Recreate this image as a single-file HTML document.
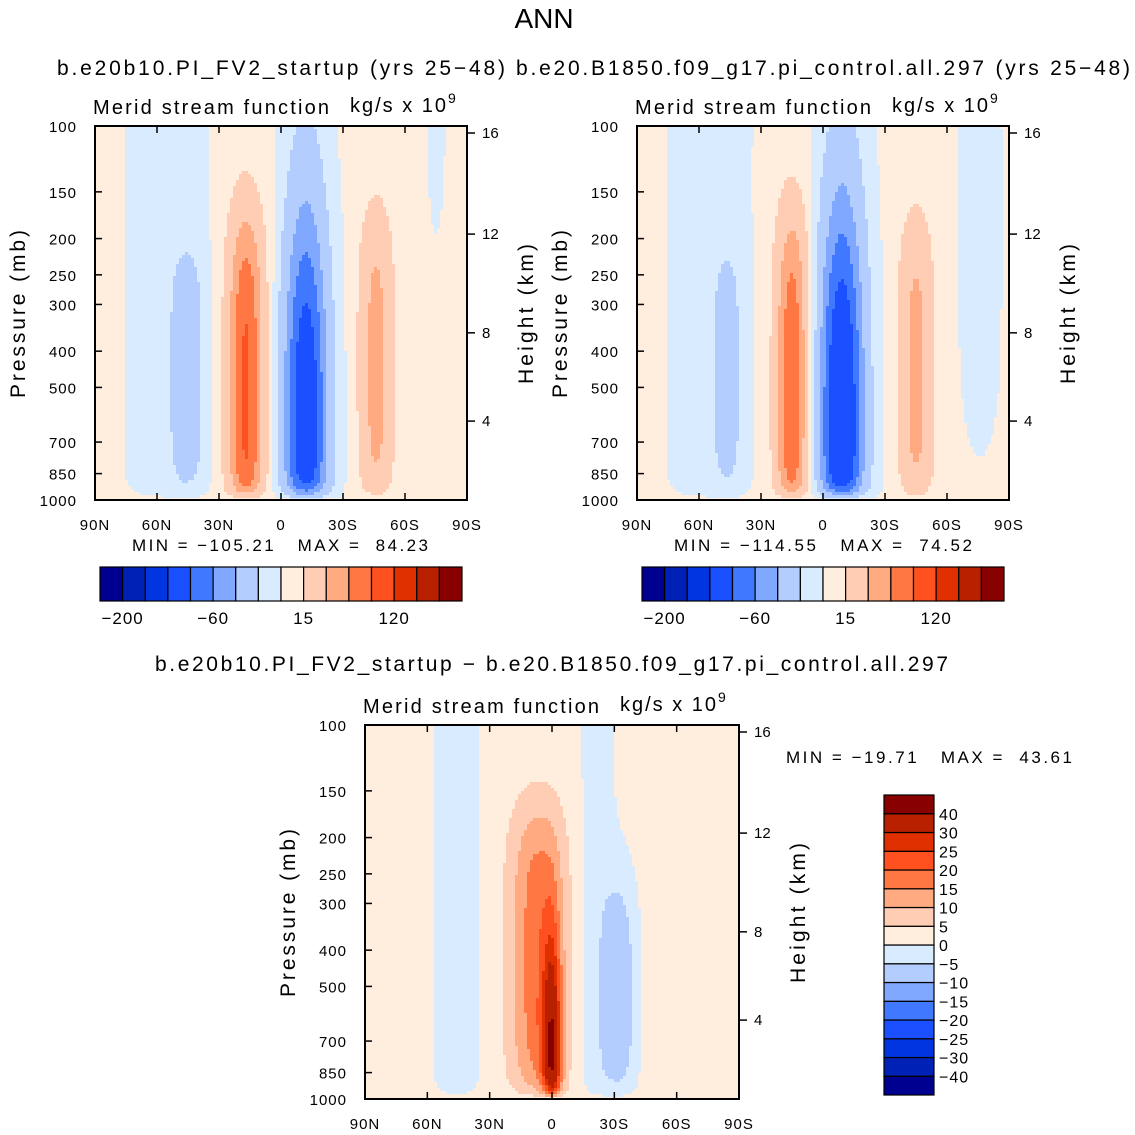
<!DOCTYPE html>
<html><head><meta charset="utf-8">
<style>
body{margin:0;background:#fff;}
svg{display:block;font-family:"Liberation Sans",sans-serif;}
text{white-space:pre;}
</style></head>
<body>
<svg id="fig" width="1135" height="1135" viewBox="0 0 1135 1135" xmlns="http://www.w3.org/2000/svg">
<text x="544" y="28" font-size="28" text-anchor="middle">ANN</text>
<text x="57" y="75" font-size="21" textLength="448" lengthAdjust="spacing">b.e20b10.PI_FV2_startup (yrs 25−48)</text>
<text x="516" y="75" font-size="21" textLength="614" lengthAdjust="spacing">b.e20.B1850.f09_g17.pi_control.all.297 (yrs 25−48)</text>
<text x="155" y="671" font-size="21" textLength="793" lengthAdjust="spacing">b.e20b10.PI_FV2_startup − b.e20.B1850.f09_g17.pi_control.all.297</text>
<g id="p1"></g>
<g id="p2"></g>
<g id="p3"></g>
<g id="cb"></g>
</svg>
<script>
// ---- data ----
const colors = ["#000090","#0021b5","#0035e0","#1a50ff","#4078ff","#80a8ff","#b4cdff","#d8ebff","#ffeedd","#ffcdb4","#ffaa80","#ff7844","#ff5020","#e03000","#b82000","#880000"];
const levelsAbs = [-200,-160,-120,-80,-60,-40,-15,0,15,40,60,80,120,160,200];
const levelsDiff = [-40,-30,-25,-20,-15,-10,-5,0,5,10,15,20,25,30,40];
const cbAbsLabels = ["−200","−60","15","120"];
const cbAbsLabelIdx = [0,4,8,12];
const cbDiffLabels = ["40","30","25","20","15","10","5","0","−5","−10","−15","−20","−25","−30","−40"];
const pressureTicks = [100,150,200,250,300,400,500,700,850,1000];
const heightTicks = [4,8,12,16];
const heightFrac = [0.789,0.553,0.289,0.0187];
const latTickLabels = ["90N","60N","30N","0","30S","60S","90S"];
const latTicks = [90,60,30,0,-30,-60,-90];
// panel 1 components (lat center, amplitude, lat width, y-centre frac, y width, exponent)
const p1Base = 3;
const p1Lat  = [17, -12, 45, -46, 55, -12, -75];
const p1Amp  = [80, -100, -26, 45, -9, -6, -5];
const p1LatW = [8.8, 11, 8, 8, 20, 10, 6];
const p1Y0   = [0.72, 0.8, 0.66, 0.64, 0.5, 0.5, 0];
const p1YW   = [0.5, 0.6, 0.33, 0.42, 9, 9, 0.4];
const p1Ex   = [3.5, 2.2, 4, 3.5, 2, 2, 2];
// panel 2
const p2Base = 3;
const p2Lat  = [15, -9, 46, -45, 55, -10, -76];
const p2Amp  = [72, -110, -21, 44, -9, -6, -9];
const p2LatW = [8, 11, 7, 8, 20, 12, 10];
const p2Y0   = [0.72, 0.8, 0.66, 0.66, 0.5, 0.5, 0.25];
const p2YW   = [0.5, 0.62, 0.33, 0.42, 9, 9, 0.62];
const p2Ex   = [3.5, 2.2, 4, 3.5, 2, 2, 4];
// panel 3 (difference)
const p3Base = 2;
const p3Lat  = [7, 0, -33, 46, -22];
const p3Amp  = [16, 31, -11, -5, -5];
const p3LatW = [13, 4.5, 8, 12, 8];
const p3Y0   = [0.63, 0.93, 0.72, 0.5, 0.5];
const p3YW   = [0.42, 0.36, 0.33, 9, 9];
const p3Ex   = [4, 2, 2.5, 2, 2];

const NS="http://www.w3.org/2000/svg";
function mk(tag,attrs,parent){const e=document.createElementNS(NS,tag);for(const k in attrs)e.setAttribute(k,attrs[k]);parent.appendChild(e);return e;}

function field(lat,yf,base,L,A,W,Y0,YW,EX){
  let v=0;
  for(let i=0;i<L.length;i++){
    v+=A[i]*Math.exp(-Math.pow((lat-L[i])/W[i],2))*Math.exp(-Math.pow(Math.abs(yf-Y0[i])/YW[i],EX[i]));
  }
  const taper=1-Math.exp(-(1-yf)/0.025);
  return base+v*taper;
}
function colorIdx(v,lev){let k=0;while(k<lev.length&&v>=lev[k])k++;return k;}

function drawPanel(id,x0,y0,w,h,base,L,A,W,Y0,YW,EX,lev,label){
  const g=document.getElementById(id);
  const xS=lat=>x0+(90-lat)/180*w;
  const yP=p=>y0+Math.log10(p/100)*h;
  const cell=3;
  const nx=Math.ceil(w/cell), ny=Math.ceil(h/cell);
  const cg=mk('g',{},g);
  
  
  for(let j=0;j<ny;j++){
    const yf=(j+0.5)*cell/h;
    let runStart=0,runC=-1;
    for(let i=0;i<=nx;i++){
      let c=-2;
      if(i<nx){const lat=90-(i+0.5)*cell/w*180;c=colorIdx(field(lat,yf,base,L,A,W,Y0,YW,EX),lev);}
      if(c!==runC){
        if(runC>=0){
          const r=mk('rect',{x:x0+runStart*cell,y:y0+j*cell,width:Math.min((i-runStart)*cell,w-runStart*cell)+0.5,height:Math.min(cell,h-j*cell)+0.5,fill:colors[runC]},cg);
          
          
        }
        runStart=i;runC=c;
      }
    }
  }
  const fr=mk('rect',{x:x0,y:y0,width:w,height:h,fill:'none',stroke:'#000','stroke-width':2},g);
  
  
  pressureTicks.forEach(p=>{
    const y=yP(p);
    mk('line',{x1:x0,x2:x0+7,y1:y,y2:y,stroke:'#000','stroke-width':1.5},g);
    const t=mk('text',{x:x0-18,y:y+6,'font-size':15,'text-anchor':'end','letter-spacing':1},g);
    t.textContent=p;
    
    
  });
  heightTicks.forEach((z,i)=>{
    const y=y0+heightFrac[i]*h;
    mk('line',{x1:x0+w,x2:x0+w+8,y1:y,y2:y,stroke:'#000','stroke-width':1.5},g);
    const t=mk('text',{x:x0+w+15,y:y+5,'font-size':15},g);
    t.textContent=z;
    
    
  });
  latTicks.forEach((lt,i)=>{
    const x=xS(lt);
    mk('line',{x1:x,x2:x,y1:y0+h,y2:y0+h-7,stroke:'#000','stroke-width':1.5},g);
    mk('line',{x1:x,x2:x,y1:y0,y2:y0+7,stroke:'#000','stroke-width':1.5},g);
    const t=mk('text',{x:x,y:y0+h+30,'font-size':15,'text-anchor':'middle','letter-spacing':1},g);
    t.textContent=latTickLabels[i];
    
    
  });
  const lt=mk('text',{x:x0-2,y:y0-12,'font-size':20,textLength:236,lengthAdjust:'spacing'},g);
  lt.textContent='Merid stream function';
  
  
  const ut=mk('text',{x:x0+255,y:y0-14,'font-size':20,'letter-spacing':2},g);
  ut.innerHTML='kg/s x 10<tspan font-size="14" dy="-9">9</tspan>';
  
  
  const pl=mk('text',{transform:`translate(${x0-70},${y0+h/2+1}) rotate(-90)`,'font-size':21,'text-anchor':'middle',textLength:168,lengthAdjust:'spacing'},g);
  pl.textContent='Pressure (mb)';
  
  
  const hl=mk('text',{transform:`translate(${x0+w+66},${y0+h/2+1}) rotate(-90)`,'font-size':21,'text-anchor':'middle',textLength:140,lengthAdjust:'spacing'},g);
  hl.textContent='Height (km)';
  
  
}

drawPanel('p1',95,126,372,374,p1Base,p1Lat,p1Amp,p1LatW,p1Y0,p1YW,p1Ex,levelsAbs,'model');
drawPanel('p2',637,126,372,374,p2Base,p2Lat,p2Amp,p2LatW,p2Y0,p2YW,p2Ex,levelsAbs,'control');
drawPanel('p3',365,725,374,374,p3Base,p3Lat,p3Amp,p3LatW,p3Y0,p3YW,p3Ex,levelsDiff,'difference');

const cb=document.getElementById('cb');
function stat(x,y,txt,len,name){
  const t=mk('text',{x:x,y:y,'font-size':17,textLength:len,lengthAdjust:'spacing'},cb);
  t.textContent=txt;
  
  
}
stat(132,551,'MIN = −105.21   MAX =  84.23',296,'min-max-model');
stat(674,551,'MIN = −114.55   MAX =  74.52',298,'min-max-control');
stat(786,763,'MIN = −19.71   MAX =  43.61',286,'min-max-difference');

function hbar(x0,y0,w,h,name){
  const g=mk('g',{},cb);
  
  
  const bw=w/16;
  colors.forEach((c,i)=>{
    const r=mk('rect',{x:x0+i*bw,y:y0,width:bw,height:h,fill:c,stroke:'#000','stroke-width':1.2},g);
    
    
  });
  cbAbsLabelIdx.forEach((k,i)=>{
    const t=mk('text',{x:x0+(k+1)*bw,y:y0+h+23,'font-size':17,'text-anchor':'middle','letter-spacing':1},g);
    t.textContent=cbAbsLabels[i];
    
    
  });
}
hbar(100,567,362,34,'colorbar-model');
hbar(642,567,362,34,'colorbar-control');

(function(){
  const x0=884,y0=795,w=50,h=300,bh=h/16;
  const g=mk('g',{},cb);
  
  
  colors.forEach((c,i)=>{
    const r=mk('rect',{x:x0,y:y0+(15-i)*bh,width:w,height:bh,fill:c,stroke:'#000','stroke-width':1.2},g);
    
    
  });
  cbDiffLabels.forEach((s,i)=>{
    const t=mk('text',{x:x0+w+5,y:y0+(i+1)*bh+6,'font-size':16,'letter-spacing':1},g);
    t.textContent=s;
    
    
  });
})();
</script>
</body></html>
